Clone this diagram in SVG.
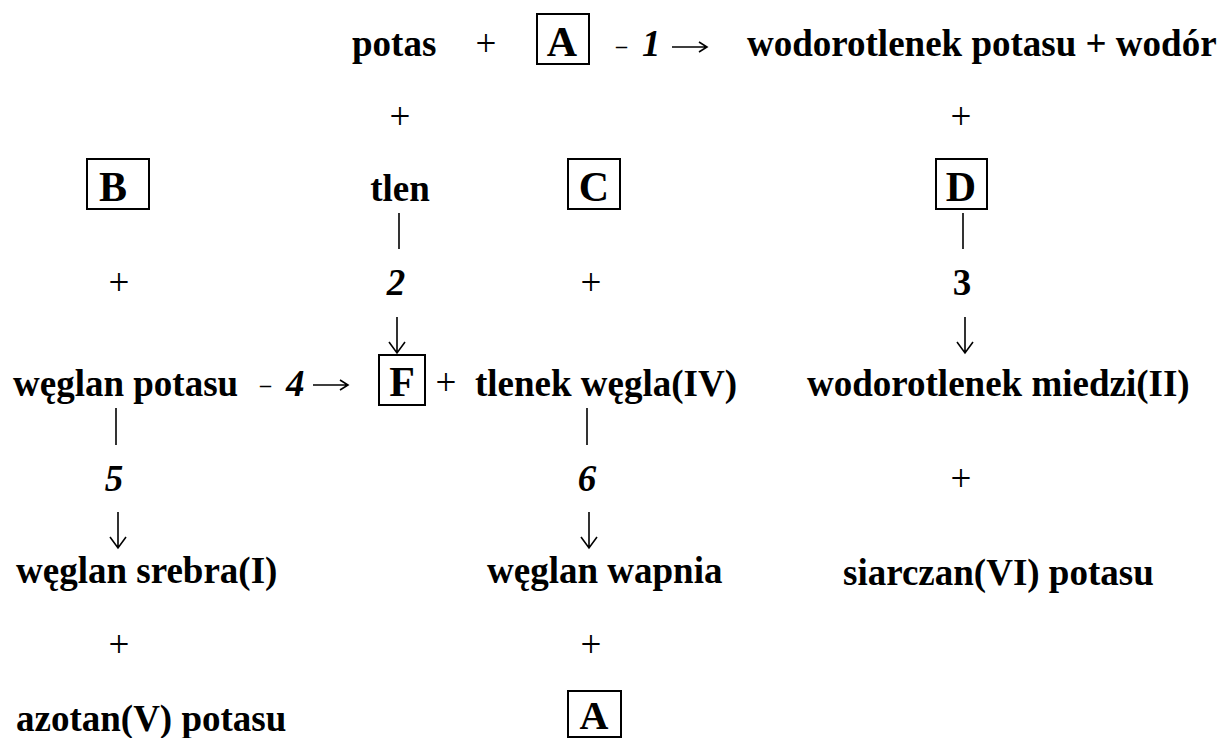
<svg xmlns="http://www.w3.org/2000/svg" width="1227" height="738" viewBox="0 0 1227 738">
<style>
.t{font-family:"Liberation Serif","Times New Roman",serif;font-size:37px;font-weight:bold;fill:#000}
.b{font-family:"Liberation Serif","Times New Roman",serif;font-size:42px;font-weight:bold;fill:#000;text-anchor:middle}
.p{font-family:"Liberation Serif","Times New Roman",serif;font-size:37px;font-weight:normal;fill:#000;text-anchor:middle}
.n{font-family:"Liberation Serif","Times New Roman",serif;font-size:37px;font-weight:bold;fill:#000;text-anchor:middle}
.i{font-style:italic}
.m{text-anchor:middle}
.d{font-family:"Liberation Serif","Times New Roman",serif;font-size:22px;font-weight:bold;fill:#000}
.box{fill:none;stroke:#000;stroke-width:2}
.ln{fill:none;stroke:#000;stroke-width:1.6}
</style>
<rect width="1227" height="738" fill="#fff"/>

<g id="n-potas"><text class="t" x="352" y="56">potas</text></g>
<g id="n-A-top"><rect class="box" x="537" y="14" width="52" height="50"/><text class="b" x="562" y="56">A</text></g>
<g id="n-wodorotlenek-potasu-wodor"><text class="t" x="747" y="56">wodorotlenek potasu + wodór</text></g>
<g id="n-B"><rect class="box" x="87" y="159" width="62" height="50"/><text class="b" x="113" y="201">B</text></g>
<g id="n-tlen"><text class="t m" x="400" y="201">tlen</text></g>
<g id="n-C"><rect class="box" x="568" y="159" width="52" height="50"/><text class="b" x="594" y="201">C</text></g>
<g id="n-D"><rect class="box" x="936" y="159" width="51" height="50"/><text class="b" x="961" y="201">D</text></g>
<g id="n-weglan-potasu"><text class="t" x="13" y="396">węglan potasu</text></g>
<g id="n-F"><rect class="box" x="379" y="355" width="46" height="50"/><text class="b" x="402" y="396">F</text></g>
<g id="n-tlenek-wegla"><text class="t" x="475" y="396">tlenek węgla(IV)</text></g>
<g id="n-wodorotlenek-miedzi"><text class="t" x="807" y="396">wodorotlenek miedzi(II)</text></g>
<g id="n-weglan-srebra"><text class="t" x="16" y="583">węglan srebra(I)</text></g>
<g id="n-weglan-wapnia"><text class="t" x="487" y="583">węglan wapnia</text></g>
<g id="n-siarczan-potasu"><text class="t" x="843" y="585">siarczan(VI) potasu</text></g>
<g id="n-azotan-potasu"><text class="t" x="16" y="731">azotan(V) potasu</text></g>
<g id="n-A-bottom"><rect class="box" x="568" y="691" width="53" height="46"/><text class="b" x="594" y="729" style="font-size:40px">A</text></g>

<g id="plus-signs">
<text class="p" x="486" y="56">+</text>
<text class="p" x="400" y="129">+</text>
<text class="p" x="961" y="129">+</text>
<text class="p" x="119" y="295">+</text>
<text class="p" x="591" y="295">+</text>
<text class="p" x="446" y="395">+</text>
<text class="p" x="961" y="491">+</text>
<text class="p" x="119" y="657">+</text>
<text class="p" x="591" y="657">+</text>
</g>

<g id="reaction-labels">
<text class="d" x="616" y="53">–</text>
<text class="t i" x="642" y="56">1</text>
<text class="d" x="260" y="392">–</text>
<text class="t i" x="286" y="396">4</text>
<text class="n i" x="396" y="295">2</text>
<text class="n" x="962" y="295">3</text>
<text class="n i" x="114" y="491">5</text>
<text class="n i" x="587" y="491">6</text>
</g>

<g id="connectors">
<path class="ln" d="M672 47H707M699 42L707 47L699 52"/>
<path class="ln" d="M313 385H348M340 380L348 385L340 390"/>
<path class="ln" d="M399 213V249"/>
<path class="ln" d="M397 317V353M389 342L397 353L405 342"/>
<path class="ln" d="M963 213V249"/>
<path class="ln" d="M965 317V353M957 342L965 353L973 342"/>
<path class="ln" d="M116 408V445"/>
<path class="ln" d="M118 512V548M110 537L118 548L126 537"/>
<path class="ln" d="M587 408V445"/>
<path class="ln" d="M589 512V548M581 537L589 548L597 537"/>
</g>
</svg>
